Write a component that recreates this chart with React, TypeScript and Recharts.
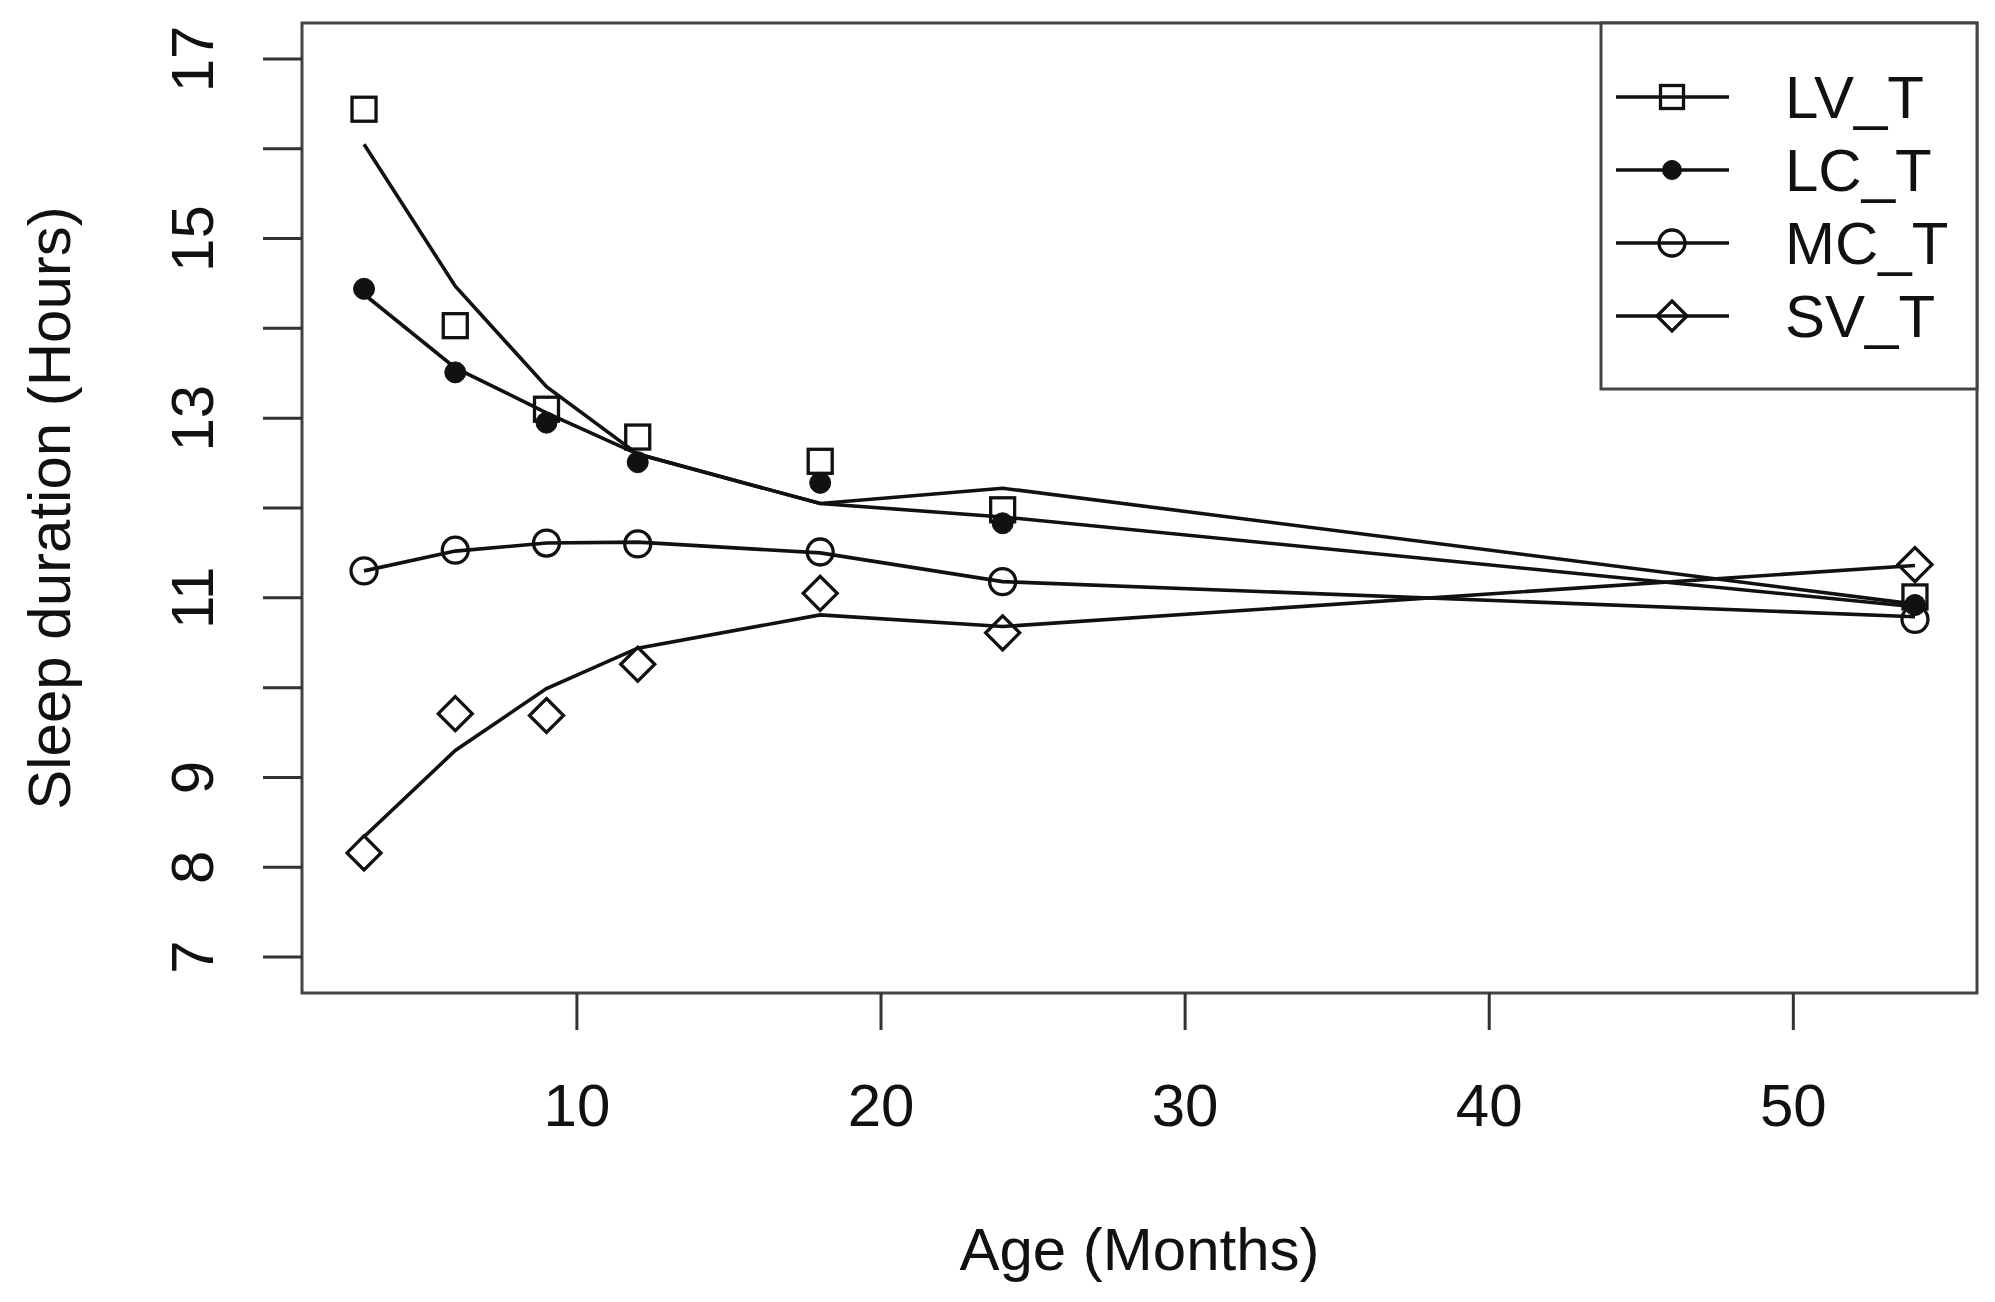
import React from "react";
import {
  ComposedChart,
  Line,
  Scatter,
  XAxis,
  YAxis,
  ReferenceArea,
  Legend,
  Label,
} from "recharts";

// ---- Data ----
const ages = [3, 6, 9, 12, 18, 24, 54];

const lvObserved = [16.44, 14.03, 13.1, 12.79, 12.52, 11.98, 11.01];
const lvFitted = [16.05, 14.47, 13.35, 12.6, 12.05, 12.22, 10.93];

const lcObserved = [14.44, 13.51, 12.95, 12.51, 12.28, 11.83, 10.92];
const lcFitted = [14.38, 13.56, 13.06, 12.6, 12.05, 11.9, 10.9];

const mcObserved = [11.3, 11.53, 11.61, 11.6, 11.51, 11.18, 10.76];
const mcFitted = [11.3, 11.52, 11.61, 11.62, 11.5, 11.18, 10.79];

const svObserved = [8.16, 9.71, 9.69, 10.26, 11.05, 10.61, 11.37];
const svFitted = [8.34, 9.3, 9.99, 10.44, 10.81, 10.68, 11.36];

const seriesNames = ["LV_T", "LC_T", "MC_T", "SV_T"];
const seriesShapes = ["square", "dot", "circle", "diamond"];

const xTicks = [10, 20, 30, 40, 50];
const yTicks = [7, 8, 9, 10, 11, 12, 13, 14, 15, 16, 17];
const yLabelled = [7, 8, 9, 11, 13, 15, 17];

const xTitle = "Age (Months)";
const yTitle = "Sleep duration (Hours)";

const data = ages.map((age, i) => ({
  age,
  LV_obs: lvObserved[i],
  LV_fit: lvFitted[i],
  LC_obs: lcObserved[i],
  LC_fit: lcFitted[i],
  MC_obs: mcObserved[i],
  MC_fit: mcFitted[i],
  SV_obs: svObserved[i],
  SV_fit: svFitted[i],
}));

// ---- Styling ----
const FONT = "'Liberation Sans', Arial, Helvetica, sans-serif";
const FS = 60;
const INK = "#111";
const FRAME = "#444";
const SW = 3;
const LINE_W = 3.6;
const MARK_W = 3.3;

function Marker({ kind, cx, cy, legend }: { kind: string; cx: number; cy: number; legend?: boolean }) {
  if (cx == null || cy == null) return null;
  const common = { stroke: INK, strokeWidth: MARK_W } as const;
  if (kind === "square") {
    const s = legend ? 23 : 24;
    return <rect x={cx - s / 2} y={cy - s / 2} width={s} height={s} fill="none" {...common} />;
  }
  if (kind === "dot") {
    const r = legend ? 9.5 : 10.5;
    return <circle cx={cx} cy={cy} r={r} fill={INK} stroke={INK} strokeWidth={1} />;
  }
  if (kind === "circle") {
    return <circle cx={cx} cy={cy} r={13} fill="none" {...common} />;
  }
  const h = legend ? 15 : 17;
  return (
    <polygon
      points={`${cx},${cy - h} ${cx + h},${cy} ${cx},${cy + h} ${cx - h},${cy}`}
      fill="none"
      {...common}
    />
  );
}

const shapeFor = (kind: string) => (props: any) => <Marker kind={kind} cx={props.cx} cy={props.cy} />;

function XTick(props: any) {
  const { x, y, payload } = props;
  return (
    <text x={x} y={y + 94} textAnchor="middle" fontSize={FS} fontFamily={FONT} fill={INK}>
      {payload.value}
    </text>
  );
}

function YTick(props: any) {
  const { x, y, payload } = props;
  if (!yLabelled.includes(payload.value)) return null;
  const bx = x - 48;
  return (
    <text
      x={bx}
      y={y}
      transform={`rotate(-90, ${bx}, ${y})`}
      textAnchor="middle"
      fontSize={FS}
      fontFamily={FONT}
      fill={INK}
    >
      {payload.value}
    </text>
  );
}

function renderXTitle(props: any) {
  const vb = props.viewBox || {};
  return (
    <text
      x={vb.x + vb.width / 2}
      y={vb.y + 277}
      textAnchor="middle"
      fontSize={FS}
      fontFamily={FONT}
      fill={INK}
    >
      {xTitle}
    </text>
  );
}

function renderYTitle(props: any) {
  const vb = props.viewBox || {};
  const cx = vb.x + 70;
  const cy = vb.y + vb.height / 2;
  return (
    <text
      x={cx}
      y={cy}
      transform={`rotate(-90, ${cx}, ${cy})`}
      textAnchor="middle"
      fontSize={FS}
      fontFamily={FONT}
      fill={INK}
    >
      {yTitle}
    </text>
  );
}

function renderLegend() {
  const rows = [76, 149, 222, 295];
  return (
    <svg width={380} height={370} style={{ display: "block" }}>
      <rect x={2} y={2} width={376} height={366} fill="#fff" stroke={FRAME} strokeWidth={SW} />
      {seriesNames.map((name, i) => (
        <g key={name}>
          <line x1={17} x2={130} y1={rows[i]} y2={rows[i]} stroke={INK} strokeWidth={LINE_W} />
          <Marker kind={seriesShapes[i]} cx={73} cy={rows[i]} legend />
          <text x={186} y={rows[i] + 21} fontSize={FS} fontFamily={FONT} fill={INK}>
            {name}
          </text>
        </g>
      ))}
    </svg>
  );
}

export default function App() {
  const keys = ["LV", "LC", "MC", "SV"];
  return (
    <div style={{ position: "absolute", left: 0, top: 0, width: 1995, height: 1302, background: "#fff" }}>
      <ComposedChart
        width={1995}
        height={1302}
        data={data}
        margin={{ top: 23, right: 18, bottom: 0, left: 0 }}
      >
        <XAxis
          type="number"
          dataKey="age"
          domain={[0.96, 56.04]}
          allowDataOverflow
          ticks={xTicks}
          interval={0}
          height={309}
          tickSize={37}
          axisLine={false}
          tickLine={{ stroke: "#333", strokeWidth: SW }}
          tick={<XTick />}
        >
          <Label content={renderXTitle} />
        </XAxis>
        <YAxis
          type="number"
          domain={[6.6, 17.4]}
          allowDataOverflow
          ticks={yTicks}
          interval={0}
          width={302}
          tickSize={39}
          axisLine={false}
          tickLine={{ stroke: "#333", strokeWidth: SW }}
          tick={<YTick />}
        >
          <Label content={renderYTitle} />
        </YAxis>
        <ReferenceArea
          x1={0.96}
          x2={56.04}
          y1={6.6}
          y2={17.4}
          fill="none"
          fillOpacity={0}
          stroke={FRAME}
          strokeWidth={SW}
          ifOverflow="visible"
        />
        {keys.map((k, i) => (
          <Scatter
            key={k + "_obs"}
            name={seriesNames[i]}
            dataKey={k + "_obs"}
            shape={shapeFor(seriesShapes[i])}
            isAnimationActive={false}
          />
        ))}
        {keys.map((k) => (
          <Line
            key={k + "_fit"}
            type="linear"
            dataKey={k + "_fit"}
            stroke={INK}
            strokeWidth={LINE_W}
            dot={false}
            activeDot={false}
            isAnimationActive={false}
            legendType="none"
          />
        ))}
        <Legend
          layout="vertical"
          align="center"
          verticalAlign="middle"
          content={renderLegend}
          wrapperStyle={{ left: 1599, top: 21, width: 380, height: 370, margin: 0, padding: 0 }}
        />
      </ComposedChart>
    </div>
  );
}
